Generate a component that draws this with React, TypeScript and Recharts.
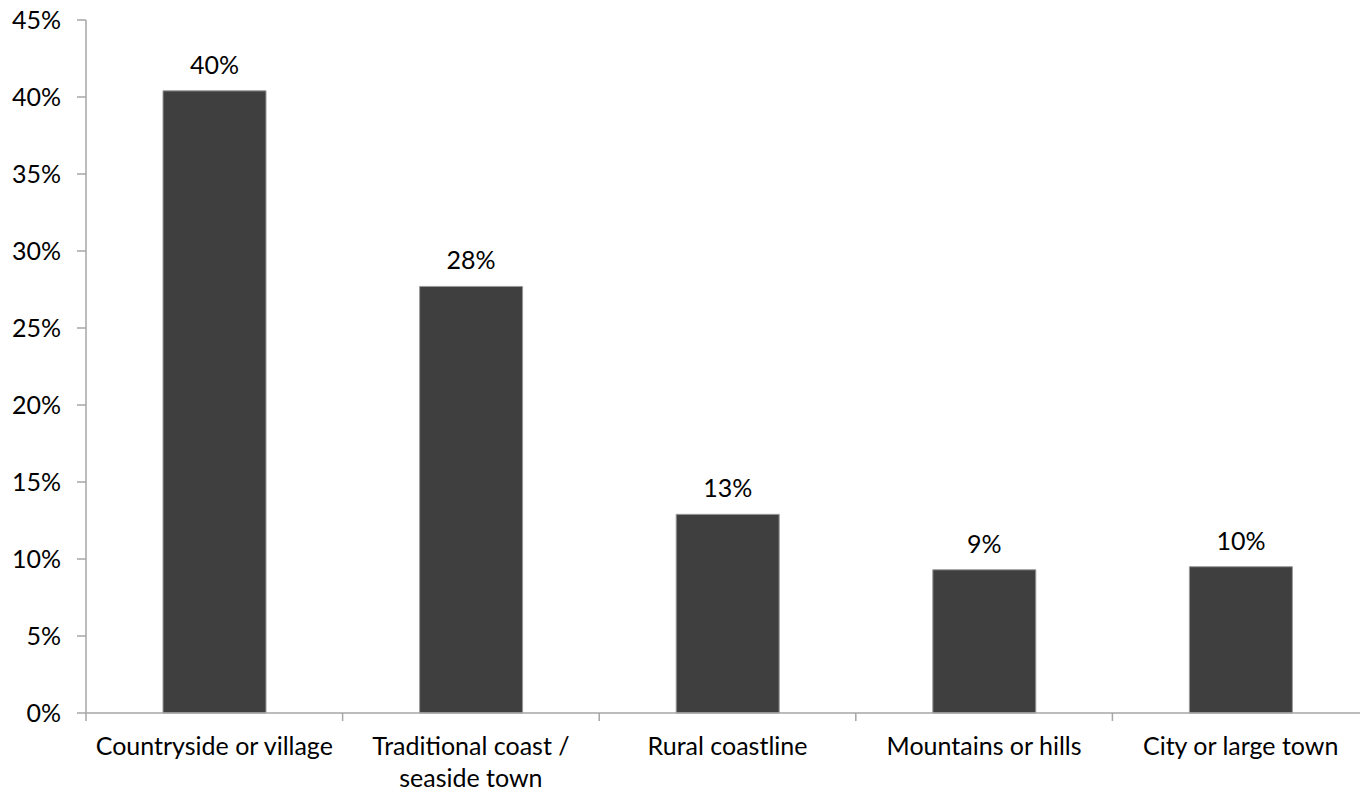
import React from "react";
import { BarChart, Bar, XAxis, YAxis, LabelList } from "recharts";

const categories = [
  "Countryside or village",
  "Traditional coast / seaside town",
  "Rural coastline",
  "Mountains or hills",
  "City or large town",
];
const tickLines = [
  ["Countryside or village"],
  ["Traditional coast /", "seaside town"],
  ["Rural coastline"],
  ["Mountains or hills"],
  ["City or large town"],
];
const shares = [40.4, 27.7, 12.9, 9.3, 9.5];
const yTicks = [0, 5, 10, 15, 20, 25, 30, 35, 40, 45];

const data = categories.map((name, i) => ({ name, value: shares[i] }));

const FONT = "Lato, 'Open Sans', sans-serif";
const FS = 25;
const CHART_W = 1400;
const LEFT = 86;
const RIGHT = 31;
const BAND = (CHART_W - LEFT - RIGHT) / categories.length;

const CategoryTick = (props: any) => {
  const { x, y, payload, index } = props;
  const lines = tickLines[index] || [payload.value];
  return (
    <g>
      <line x1={x - BAND / 2} y1={y - 8} x2={x - BAND / 2} y2={y} stroke="#a6a6a6" strokeWidth={1.5} />
      {index === categories.length - 1 && (
        <line x1={x + BAND / 2} y1={y - 8} x2={x + BAND / 2} y2={y} stroke="#a6a6a6" strokeWidth={1.5} />
      )}
      <text x={x} y={y + 34} textAnchor="middle" fill="#000" fontFamily={FONT} fontSize={FS}>
        {lines.map((l: string, k: number) => (
          <tspan key={k} x={x} dy={k === 0 ? 0 : 32}>
            {l}
          </tspan>
        ))}
      </text>
    </g>
  );
};

const App: React.FC = () => {
  return (
    <div style={{ position: "absolute", left: 0, top: 0, width: 1360, height: 792, overflow: "hidden", background: "#fff" }}>
      <BarChart
        width={CHART_W}
        height={792}
        data={data}
        margin={{ top: 20, right: RIGHT, bottom: 0, left: 0 }}
        barCategoryGap="20%"
      >
        <XAxis
          dataKey="name"
          tick={<CategoryTick />}
          tickLine={false}
          axisLine={{ stroke: "#a6a6a6", strokeWidth: 1.5 }}
          height={79}
          interval={0}
        />
        <YAxis
          domain={[0, 45]}
          ticks={yTicks}
          tickFormatter={(v: number) => `${v}%`}
          width={LEFT}
          axisLine={{ stroke: "#a6a6a6", strokeWidth: 1.5 }}
          tickLine={{ stroke: "#a6a6a6", strokeWidth: 1.5 }}
          tickSize={9}
          tickMargin={16}
          tick={{ fill: "#000", fontFamily: FONT, fontSize: FS }}
        />
        <Bar dataKey="value" fill="#3f3f3f" stroke="#9a9a9a" strokeWidth={1} barSize={103} isAnimationActive={false}>
          <LabelList
            dataKey="value"
            position="top"
            offset={17}
            formatter={(v: any) => `${Math.round(Number(v))}%`}
            style={{ fill: "#000", fontFamily: FONT, fontSize: FS }}
          />
        </Bar>
      </BarChart>
    </div>
  );
};

export default App;
